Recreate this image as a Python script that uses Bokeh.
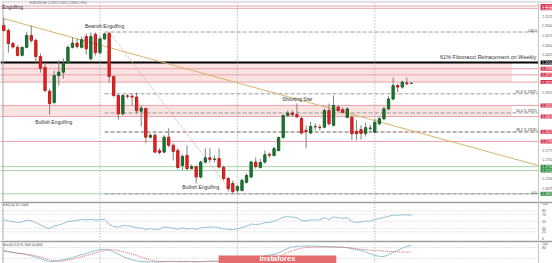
from bokeh.plotting import figure
from bokeh.layouts import column
from bokeh.models import Range1d
from bokeh.core.properties import value
from bokeh.embed import file_html
from bokeh.resources import INLINE

# ---------------- data (EURUSD H4) ----------------
opens = [1.2101, 1.2088, 1.2054, 1.2044, 1.2023, 1.2044, 1.2075, 1.2062, 1.2020, 1.1991,
         1.1929, 1.1900, 1.1970, 1.1979, 1.2003, 1.2044, 1.2055, 1.2044, 1.2072, 1.2014,
         1.2078, 1.2030, 1.2066, 1.2080, 1.1968, 1.1918, 1.1870, 1.1917, 1.1916, 1.1914,
         1.1877, 1.1884, 1.1809, 1.1814, 1.1774, 1.1770, 1.1809, 1.1788, 1.1774, 1.1735,
         1.1761, 1.1727, 1.1732, 1.1705, 1.1744, 1.1755, 1.1751, 1.1753, 1.1730, 1.1701,
         1.1688, 1.1670, 1.1670, 1.1691, 1.1705, 1.1744, 1.1730, 1.1744, 1.1764, 1.1761,
         1.1774, 1.1808, 1.1866, 1.1872, 1.1868, 1.1858, 1.1827, 1.1820, 1.1836, 1.1835,
         1.1835, 1.1879, 1.1840, 1.1888, 1.1881, 1.1861, 1.1861, 1.1824, 1.1829, 1.1819,
         1.1832, 1.1822, 1.1844, 1.1857, 1.1883, 1.1909, 1.1944, 1.1940, 1.1951, 1.1950]
closes = [1.2088, 1.2054, 1.2045, 1.2023, 1.2044, 1.2075, 1.2062, 1.2020, 1.1989, 1.1931,
          1.1897, 1.1970, 1.1979, 1.2001, 1.2044, 1.2055, 1.2046, 1.2064, 1.2040, 1.2072,
          1.2030, 1.2066, 1.2079, 1.1968, 1.1918, 1.1870, 1.1918, 1.1916, 1.1914, 1.1878,
          1.1885, 1.1809, 1.1814, 1.1770, 1.1769, 1.1809, 1.1788, 1.1772, 1.1730, 1.1759,
          1.1727, 1.1732, 1.1705, 1.1744, 1.1755, 1.1751, 1.1752, 1.1731, 1.1701, 1.1675,
          1.1667, 1.1680, 1.1696, 1.1709, 1.1744, 1.1732, 1.1743, 1.1763, 1.1762, 1.1779,
          1.1808, 1.1866, 1.1872, 1.1868, 1.1862, 1.1820, 1.1824, 1.1837, 1.1837, 1.1834,
          1.1879, 1.1844, 1.1892, 1.1879, 1.1874, 1.1883, 1.1818, 1.1818, 1.1819, 1.1834,
          1.1833, 1.1848, 1.1857, 1.1883, 1.1909, 1.1944, 1.1940, 1.1953, 1.1949, 1.1950]
highs = [1.2122, 1.2093, 1.2059, 1.2049, 1.2046, 1.2085, 1.2101, 1.2067, 1.2028, 1.2004,
         1.1936, 1.1983, 1.2010, 1.2015, 1.2049, 1.2070, 1.2067, 1.2072, 1.2080, 1.2083,
         1.2083, 1.2072, 1.2082, 1.2084, 1.1970, 1.1921, 1.1921, 1.1921, 1.1923, 1.1926,
         1.1892, 1.1887, 1.1819, 1.1819, 1.1780, 1.1814, 1.1832, 1.1793, 1.1780, 1.1764,
         1.1788, 1.1738, 1.1735, 1.1748, 1.1780, 1.1780, 1.1761, 1.1780, 1.1735, 1.1705,
         1.1696, 1.1685, 1.1701, 1.1714, 1.1748, 1.1756, 1.1753, 1.1774, 1.1769, 1.1785,
         1.1811, 1.1868, 1.1879, 1.1879, 1.1897, 1.1863, 1.1840, 1.1850, 1.1845, 1.1842,
         1.1884, 1.1897, 1.1918, 1.1892, 1.1887, 1.1887, 1.1866, 1.1853, 1.1840, 1.1847,
         1.1842, 1.1858, 1.1863, 1.1889, 1.1916, 1.1965, 1.1949, 1.1957, 1.1965, 1.1952]
lows = [1.2085, 1.2030, 1.2041, 1.2020, 1.2020, 1.2041, 1.2056, 1.2004, 1.1978, 1.1926,
        1.1868, 1.1895, 1.1944, 1.1962, 1.2002, 1.2041, 1.2041, 1.2041, 1.2025, 1.2010,
        1.2023, 1.2025, 1.2064, 1.1952, 1.1913, 1.1855, 1.1866, 1.1910, 1.1892, 1.1871,
        1.1837, 1.1793, 1.1806, 1.1767, 1.1764, 1.1767, 1.1783, 1.1748, 1.1725, 1.1722,
        1.1722, 1.1725, 1.1688, 1.1701, 1.1740, 1.1743, 1.1743, 1.1727, 1.1696, 1.1667,
        1.1661, 1.1664, 1.1667, 1.1688, 1.1701, 1.1727, 1.1727, 1.1740, 1.1756, 1.1759,
        1.1772, 1.1806, 1.1863, 1.1863, 1.1861, 1.1816, 1.1780, 1.1816, 1.1827, 1.1827,
        1.1832, 1.1840, 1.1837, 1.1874, 1.1871, 1.1858, 1.1801, 1.1801, 1.1803, 1.1811,
        1.1824, 1.1819, 1.1840, 1.1853, 1.1879, 1.1905, 1.1926, 1.1936, 1.1944, 1.1948]

rsi = [55, 51, 49, 47, 48, 53, 52, 46, 40, 33,
       29, 37, 39, 44, 49, 51, 53, 55, 54, 56,
       53, 55, 56, 41, 35, 33, 38, 37, 36, 31,
       31, 27, 29, 27, 27, 34, 32, 30, 27, 31,
       28, 29, 27, 31, 33, 33, 34, 31, 28, 27,
       26, 28, 32, 36, 42, 41, 42, 46, 47, 50,
       55, 62, 63, 62, 60, 52, 51, 54, 54, 54,
       61, 55, 63, 60, 59, 60, 49, 47, 48, 51,
       50, 55, 58, 61, 64, 68, 67, 69, 68, 67.2464]
stoch_k = [64, 58, 52, 47, 45, 40, 34, 27, 18, 8,
           2, 4, 8, 12, 18, 25, 33, 40, 46, 55,
           62, 68, 70, 68, 55, 42, 30, 20, 12, 6,
           2, 1, 1, 0, 1, 3, 4, 3, 1, 2,
           3, 2, 1, 2, 4, 5, 4, 3, 1, 0,
           0, 1, 3, 8, 14, 20, 27, 34, 38, 42,
           50, 62, 75, 82, 86, 88, 87, 88, 87, 86,
           85, 84, 83, 82, 80, 78, 73, 68, 64, 55,
           45, 36, 31, 30, 40, 52, 64, 76, 86, 91.7]
stoch_d = [58, 56, 53, 49, 46, 43, 39, 34, 27, 19,
           11, 6, 4, 6, 10, 15, 22, 29, 35, 42,
           50, 57, 63, 66, 66, 63, 57, 50, 44, 36,
           27, 18, 10, 5, 2, 1, 2, 3, 3, 2,
           2, 2, 2, 2, 2, 3, 4, 4, 3, 2,
           1, 0, 1, 2, 3, 3, 4, 8, 14, 20,
           28, 40, 52, 62, 70, 76, 79, 81, 82, 82,
           82, 82, 82, 82, 82, 80, 77, 73, 70, 67,
           65, 64, 62, 60, 58, 57, 56, 55, 54.5, 54.4]

# horizontal levels / zones
black_level = 1.2004
zone_a = (1.2003, 1.1953)
zone_b = (1.1892, 1.1863)
pink_levels = [1.2152, 1.2146, 1.1988, 1.1972, 1.1953, 1.1892, 1.1863, 1.1798]
green_levels = [1.1732, 1.1722, 1.1661]
fib_ratios = [1.0, 0.618, 0.5, 0.382, 0.0]
bearish_idx = 23
trend_x = [0, 116.7]
trend_price = [1.2119, 1.1735]
week_starts = [21, 51, 81]

price_ticks = [1.1650, 1.1675, 1.1700, 1.1725, 1.1750, 1.1775, 1.1800, 1.1825, 1.1850,
               1.1875, 1.1900, 1.1925, 1.1950, 1.1975, 1.2000, 1.2025, 1.2050, 1.2075,
               1.2100, 1.2125, 1.2150]
box_prices = [1.2152, 1.2146, 1.2004, 1.1988, 1.1972, 1.1953, 1.1892, 1.1863, 1.1823,
              1.1798, 1.1732, 1.1722, 1.1661]
box_colors = ["#d8344c", "#d8344c", "#000000", "#d8344c", "#d8344c", "#d8344c", "#d8344c",
              "#d8344c", "#d8344c", "#d8344c", "#2e8a3c", "#2e8a3c", "#2e8a3c"]
rsi_levels = [80, 70, 50, 30, 20]
rsi_ticks = [100, 80, 70, 50, 30, 20, 0]
stoch_levels = [80, 20]
stoch_ticks = [100, 80]

pattern_text = ["Bearish Engulfing", "Bullish Engulfing", "Bullish Engulfing", "Shooting Star"]
pattern_x = [22, 10.9, 43, 64.1]
pattern_y = [1.2101, 1.1850, 1.1678, 1.1908]

# ---------------- layout constants ----------------
FONT = value("Liberation Sans")
X0, X1 = -0.7205, 119.80
AXIS_X = 116.75
ZONE_END = 111.0
LABEL_X = 117.5
N = len(opens)
idx = list(range(N))
Y0, Y1 = 1.16409, 1.21664
K = (Y1 - Y0) / 201.0


def base(height, y0, y1, top_border=0):
    f = figure(width=552, height=height, x_range=Range1d(X0, X1), y_range=Range1d(y0, y1),
               x_axis_type=None, y_axis_type=None, output_backend="svg",
               toolbar_location=None, min_border=0, min_border_top=top_border,
               min_border_left=0, min_border_right=0, min_border_bottom=0,
               border_fill_color="#9d9d9d" if top_border else "white",
               background_fill_color="white", outline_line_color=None)
    return f


def frame_lines(f, y0, y1):
    f.segment(x0=week_starts, x1=week_starts, y0=y0, y1=y1, line_color="#9a9a9a",
              line_width=1, line_dash="1 2")
    f.segment(x0=[-0.17], x1=[-0.17], y0=y0, y1=y1, line_color="#a8a8a8", line_width=1)
    f.segment(x0=[AXIS_X], x1=[AXIS_X], y0=y0, y1=y1, line_color="#c4c4c4", line_width=1)


# ---------------- main price chart ----------------
p = base(201, Y0, Y1)
p.quad(left=X0, right=X1, top=Y1, bottom=Y1 - 2.5 * K, fill_color="#e3e3e3", line_color=None)
p.quad(left=[X0, X0], right=[ZONE_END, ZONE_END], top=[zone_a[0], zone_b[0]],
       bottom=[zone_a[1], zone_b[1]], fill_color="#fde2e2", line_color=None)
p.segment(x0=X0, x1=AXIS_X, y0=pink_levels, y1=pink_levels, line_color="#e6a3ad", line_width=1)
p.segment(x0=X0, x1=AXIS_X, y0=green_levels, y1=green_levels, line_color="#a8d4a8", line_width=1)

fib_high = highs[bearish_idx]
fib_low = min(lows)
fib_levels = [fib_low + r * (fib_high - fib_low) for r in fib_ratios]
fib_colors = ["#9a9a9a", "#9a9a9a", "#9a9a9a", "#7a6060", "#9a9a9a"]
p.segment(x0=bearish_idx - 1, x1=AXIS_X, y0=fib_levels, y1=fib_levels,
          line_color=fib_colors, line_width=1, line_dash="4 2")
fib_text = []
for r, lv in zip(fib_ratios, fib_levels):
    if r in (0.0, 1.0):
        fib_text.append(f"{r*100:.1f}")
    else:
        fib_text.append(f"{r*100:.1f} ({lv:.4f})")
p.text(x=AXIS_X - 0.4, y=fib_levels, text=fib_text, text_font=FONT, text_font_size="3.5px",
       text_color="#333333", text_align="right", text_baseline="bottom")

p.segment(x0=[X0], x1=[AXIS_X], y0=[black_level], y1=[black_level], line_color="#000000",
          line_width=2)

frame_lines(p, Y0, Y1 - 2.5 * K)

p.line(trend_x, trend_price, line_color="#d8b46a", line_width=1)
lo_idx = lows.index(min(lows))
p.line([bearish_idx, lo_idx], [fib_high, fib_low], line_color="#d9a0a0", line_width=1,
       line_dash="1 1")

up = [c >= o for o, c in zip(opens, closes)]
fill = ["#1f7a32" if u else "#e42424" for u in up]
edge = ["#16602a" if u else "#c01818" for u in up]
p.segment(x0=idx, x1=idx, y0=highs, y1=lows, line_color="#808080", line_width=1)
p.vbar(x=idx, width=0.5, top=[max(o, c) for o, c in zip(opens, closes)],
       bottom=[min(o, c) for o, c in zip(opens, closes)], fill_color=fill, line_color=edge,
       line_width=1)

p.text(x=pattern_x, y=pattern_y, text=pattern_text, text_font=FONT, text_font_size="5px",
       text_color="#333333", text_align="center", text_baseline="middle")
p.text(x=[AXIS_X - 0.5], y=[1.2018], text=["61% Fibonacci Retracement on Weekly"],
       text_font=FONT, text_font_size="5.5px", text_color="#333333", text_align="right",
       text_baseline="middle")
p.text(x=[-0.35], y=[Y1 - 6.5 * K], text=["Engulfing"], text_font=FONT, text_font_size="5px",
       text_color="#333333", text_align="left", text_baseline="middle")
p.text(x=[5.6], y=[Y1 - 2.2 * K],
       text=[f"EURUSD,H4  {opens[-1]:.4f} {highs[-1]:.4f} {lows[-1]:.4f} {closes[-1]:.4f}"],
       text_font=FONT, text_font_size="3px", text_color="#666666", text_align="left",
       text_baseline="middle")

# price scale
plain = [t for t in price_ticks if all(abs(t - b) > 0.0013 for b in box_prices)]
p.text(x=LABEL_X, y=plain, text=[f"{t:.4f}" for t in plain], text_font=FONT,
       text_font_size="3.5px", text_color="#555555", text_align="left", text_baseline="middle")
p.rect(x=(AXIS_X + X1) / 2 + 0.2, y=box_prices, width=X1 - AXIS_X - 0.5, height=4.0 * K,
       fill_color=box_colors, line_color=None)
p.text(x=LABEL_X, y=box_prices, text=[f"{b:.4f}" for b in box_prices], text_font=FONT,
       text_font_size="3.5px", text_color="#ffffff", text_align="left", text_baseline="middle")

# ---------------- RSI ----------------
R0, R1 = -4.86, 100.86
r = base(39, R0, R1, top_border=2)
r.segment(x0=X0, x1=AXIS_X, y0=rsi_levels, y1=rsi_levels, line_color="#c8c8c8",
          line_width=1, line_dash="1 2")
frame_lines(r, R0, R1)
r.line(idx, rsi, line_color="#8fc3d3", line_width=1)
r.text(x=[-0.2], y=[97.5], text=[f"RSI(14) {rsi[-1]:.4f}"], text_font=FONT,
       text_font_size="3.5px", text_color="#444444", text_align="left", text_baseline="middle")
r.text(x=LABEL_X, y=rsi_ticks, text=[str(t) for t in rsi_ticks], text_font=FONT,
       text_font_size="3.5px", text_color="#555555", text_align="left", text_baseline="middle")

# ---------------- Stochastic ----------------
S0, S1 = -8.3, 107.1
s = base(23, S0, S1, top_border=2)
s.segment(x0=X0, x1=AXIS_X, y0=stoch_levels, y1=stoch_levels, line_color="#c8c8c8",
          line_width=1, line_dash="1 2")
frame_lines(s, S0, S1)
s.line(idx, stoch_k, line_color="#8fc3d3", line_width=1)
s.line(idx, stoch_d, line_color="#e06464", line_width=1, line_dash="1 1")
s.text(x=[-0.2], y=[97], text=[f"Stoch(5,3,3) {stoch_k[-1]:.4f} {stoch_d[-1]:.4f}"],
       text_font=FONT, text_font_size="3px", text_color="#444444", text_align="left",
       text_baseline="middle")
s.text(x=LABEL_X, y=stoch_ticks, text=[str(t) for t in stoch_ticks], text_font=FONT,
       text_font_size="3.5px", text_color="#555555", text_align="left", text_baseline="middle")
# watermark
s.quad(left=[46.9], right=[72.6], top=[35.7], bottom=[S0 - 5], fill_color="#e36b6b",
       line_color=None)
s.text(x=[59.75], y=[-5.0], text=["instaforex"], text_font=FONT, text_font_size="7.5px",
       text_font_style="bold", text_color="#ffffff", text_align="center",
       text_baseline="bottom")

layout = column(p, r, s, spacing=0)
open("out.html", "w").write(file_html(layout, INLINE))
